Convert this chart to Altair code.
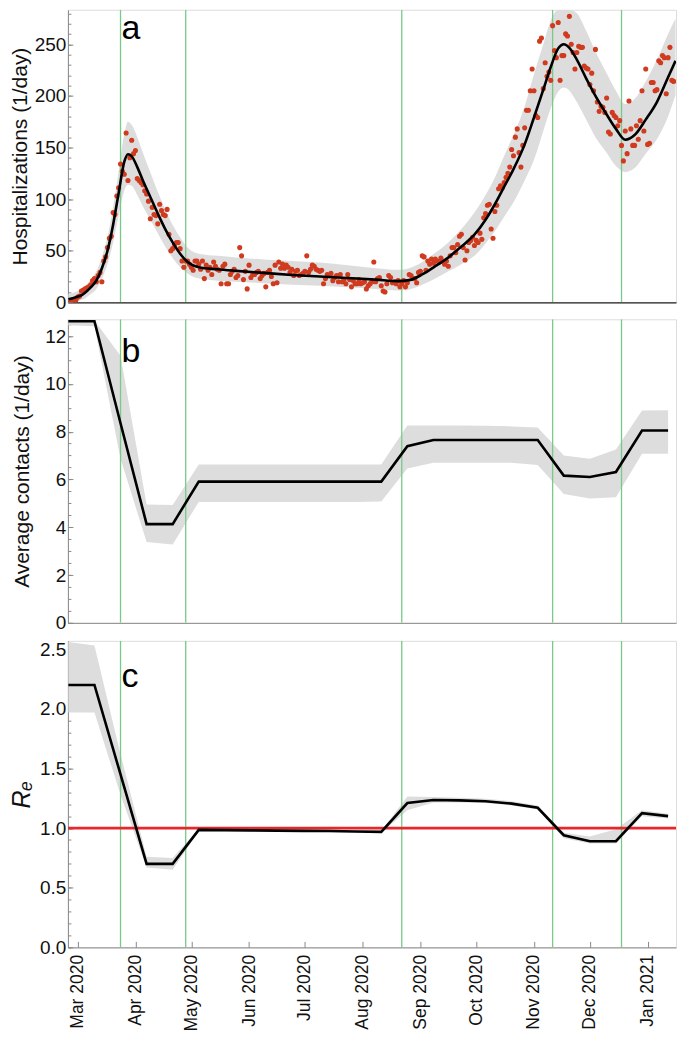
import altair as alt
import pandas as pd

FONT = "Liberation Sans"
GRAY = "#8a8a8a"
BAND = "#dcdddc"
GREEN = "#78c98a"
RED_PT = "#d03a1e"

# ---------------- data ----------------
x_start = "2020-02-24 18:00"
x_end = "2021-01-16 06:00"
event_dates = ["2020-03-24", "2020-04-28", "2020-08-22", "2020-11-11", "2020-12-18"]

# daily hospitalizations, one value per day starting at hosp_start
hosp_start = "2020-02-26"
hosp_values = [
    0, 1, 0, 2,
    5, 6, 11, 12, 13, 14, 15, 17, 21, 23,
    20, 26, 29, 20, 40, 44, 53, 62, 64, 87,
    85, 103, 111, 134, 127, 124, 164, 118, 140, 157,
    144, 147, 120, 118, 116, 114, 108, 105, 98, 81,
    92, 85, 84, 76, 95, 89, 85, 84, 90, 66,
    50, 52, 56, 58, 58, 52, 40, 34, 40, 40,
    37, 34, 31, 40, 40, 37, 32, 40, 23, 36,
    31, 34, 27, 39, 35, 32, 31, 18, 35, 37,
    18, 18, 27, 30, 32, 24, 26, 53, 45, 22,
    30, 13, 36, 24, 27, 27, 29, 30, 23, 26,
    28, 15, 29, 31, 25, 18, 36, 19, 39, 33,
    37, 33, 36, 34, 29, 32, 26, 30, 31, 26,
    27, 28, 30, 45, 29, 32, 36, 35, 32, 31,
    30, 31, 18, 23, 27, 26, 28, 21, 24, 26,
    20, 27, 20, 22, 18, 27, 22, 15, 21, 18,
    18, 22, 18, 19, 20, 13, 16, 18, 20, 39,
    20, 23, 24, 16, 11, 10, 18, 26, 24, 19,
    20, 18, 21, 15, 18, 21, 15, 19, 27, 26,
    23, 23, 19, 29, 30, 45, 44, 31, 40, 37,
    42, 38, 42, 40, 39, 43, 40, 37, 40, 35,
    45, 53, 53, 48, 56, 64, 66, 53, 41, 50,
    58, 60, 63, 55, 60, 58, 67, 61, 82, 86,
    94, 95, 71, 62, 88, 94, 110, 113, 111, 116,
    121, 125, 131, 148, 142, 160, 168, 145, 131, 152,
    169, 186, 186, 205, 226, 205, 181, 179, 253, 256,
    207, 232, 219, 223, 215, 268, 244, 237, 271, 215,
    239, 239, 260, 258, 277, 250, 242, 226, 242, 248,
    247, 247, 229, 227, 226, 211, 222, 205, 245, 194,
    185, 190, 189, 184, 198, 165, 163, 184, 181, 179,
    171, 176, 152, 137, 166, 144, 195, 168, 152, 152,
    171, 158, 176, 205, 166, 226, 153, 154, 213, 213,
    205, 206, 234, 232, 239, 237, 202, 237, 247, 215, 214,
]

# model fit for hospitalizations (median and band)
curve_dates = [
    "2020-02-25", "2020-02-29", "2020-03-04", "2020-03-08", "2020-03-11", "2020-03-14",
    "2020-03-17", "2020-03-20", "2020-03-23", "2020-03-26", "2020-03-28", "2020-03-30",
    "2020-04-02", "2020-04-05", "2020-04-09", "2020-04-13", "2020-04-17", "2020-04-21",
    "2020-04-25", "2020-04-29", "2020-05-05", "2020-05-15", "2020-05-25", "2020-06-09",
    "2020-06-24", "2020-07-09", "2020-07-24", "2020-08-08", "2020-08-20", "2020-08-26",
    "2020-09-02", "2020-09-09", "2020-09-16", "2020-09-23", "2020-09-30", "2020-10-06",
    "2020-10-11", "2020-10-16", "2020-10-21", "2020-10-27", "2020-11-01", "2020-11-06",
    "2020-11-10", "2020-11-14", "2020-11-17", "2020-11-20", "2020-11-24", "2020-11-29",
    "2020-12-04", "2020-12-10", "2020-12-15", "2020-12-20", "2020-12-25", "2020-12-31",
    "2021-01-06", "2021-01-12", "2021-01-16",
]
curve_mid = [
    3, 5, 8, 14.5, 21, 33,
    50, 75, 106, 136, 143.5, 141.5,
    131, 118, 102, 86, 71, 58,
    47, 39, 34, 32, 30.5, 28.5,
    26.5, 25, 23.5, 22, 20.5, 21.5,
    27, 35, 43.5, 54, 65.5, 80,
    95, 112, 129, 153, 179, 206,
    228, 246, 250, 246.5, 235, 217,
    200, 182, 168, 157.5, 162, 177,
    194, 218, 234,
]
curve_lo = [
    0, 1, 3, 8, 13, 23,
    37, 58, 84, 108, 114, 113,
    104, 93, 80, 67, 54, 43,
    34, 28, 23, 21, 20, 18.5,
    17, 16, 14.5, 13, 11.5, 12.5,
    17, 23, 30, 37, 45, 57,
    69, 83, 97, 118, 138, 166,
    188, 204, 208, 205, 194, 177,
    160, 145, 132, 126, 130, 144,
    158, 180, 201,
]
curve_hi = [
    8, 10, 14, 22, 30, 44,
    63, 92, 127, 163, 175, 172,
    160, 145, 126, 107, 90, 75,
    63, 53, 47, 45, 43.5, 41.5,
    40, 38.5, 36, 33, 31.5, 33,
    39, 48, 58, 71, 87, 104,
    121, 142, 162, 190, 221, 250,
    273, 292, 296, 292, 280, 263,
    243, 222, 205, 192, 197, 214,
    235, 260, 275,
]

# piecewise-constant parameter estimates (biweekly nodes)
node_dates = [
    "2020-02-25", "2020-03-10", "2020-03-24", "2020-04-07", "2020-04-21", "2020-05-05",
    "2020-05-19", "2020-06-02", "2020-06-16", "2020-06-30", "2020-07-14", "2020-07-28",
    "2020-08-11", "2020-08-25", "2020-09-08", "2020-09-22", "2020-10-06", "2020-10-20",
    "2020-11-03", "2020-11-17", "2020-12-01", "2020-12-15", "2020-12-29", "2021-01-12",
]
contacts_mid = [12.62, 12.62, 8.35, 4.13, 4.13, 5.91, 5.91, 5.91, 5.91, 5.91, 5.91, 5.91,
                5.91, 7.39, 7.65, 7.65, 7.65, 7.65, 7.65, 6.16, 6.10, 6.31, 8.05, 8.05]
contacts_lo = [12.45, 12.41, 6.87, 3.38, 3.28, 5.06, 5.06, 5.06, 5.06, 5.06, 5.06, 5.06,
               5.08, 6.46, 6.70, 6.70, 6.70, 6.70, 6.60, 5.39, 5.20, 5.25, 7.07, 7.07]
contacts_hi = [12.66, 12.65, 11.18, 4.95, 4.93, 6.62, 6.63, 6.63, 6.63, 6.63, 6.63, 6.63,
               6.62, 8.26, 8.26, 8.26, 8.25, 8.22, 8.17, 7.00, 6.87, 7.25, 8.88, 8.90]

re_mid = [2.20, 2.20, 1.45, 0.70, 0.70, 0.985, 0.983, 0.981, 0.979, 0.977, 0.975, 0.972,
          0.968, 1.21, 1.235, 1.232, 1.225, 1.205, 1.17, 0.94, 0.89, 0.89, 1.125, 1.10]
re_lo = [1.97, 1.97, 1.28, 0.67, 0.65, 0.975, 0.973, 0.971, 0.969, 0.967, 0.965, 0.962,
         0.958, 1.15, 1.215, 1.215, 1.21, 1.19, 1.155, 0.915, 0.87, 0.87, 1.10, 1.08]
re_hi = [2.56, 2.53, 1.62, 0.76, 0.75, 0.995, 0.993, 0.991, 0.989, 0.987, 0.985, 0.982,
         0.978, 1.265, 1.26, 1.255, 1.245, 1.225, 1.19, 0.96, 0.93, 0.99, 1.15, 1.12]

re_threshold = [1.0]

panel_letters = ["a", "b", "c"]
letter_dates = ["2020-03-24", "2020-03-24", "2020-03-24"]
letter_y = [255, 10.9, 2.18]

# ---------------- frames ----------------
hosp_df = pd.DataFrame({
    "date": pd.date_range(hosp_start, periods=len(hosp_values), freq="D"),
    "value": hosp_values,
})
curve_df = pd.DataFrame({"date": pd.to_datetime(curve_dates), "mid": curve_mid,
                         "lo": curve_lo, "hi": curve_hi})
contacts_df = pd.DataFrame({"date": pd.to_datetime(node_dates), "mid": contacts_mid,
                            "lo": contacts_lo, "hi": contacts_hi})
re_df = pd.DataFrame({"date": pd.to_datetime(node_dates), "mid": re_mid,
                      "lo": re_lo, "hi": re_hi})
events_df = pd.DataFrame({"date": pd.to_datetime(event_dates)})
thr_df = pd.DataFrame({"y": re_threshold})

W = 609
HA, HB, HC = 293, 304, 307
xs = pd.to_datetime(x_start)
xe = pd.to_datetime(x_end)
xscale = alt.Scale(domain=[
    alt.DateTime(year=xs.year, month=xs.month, date=xs.day, hours=xs.hour),
    alt.DateTime(year=xe.year, month=xe.month, date=xe.day, hours=xe.hour),
])
MONTHS = alt.TimeIntervalStep(interval="month", step=1)


def y_axes(major, minor, title, tsize=21, tstyle="normal", tpad=1, fmt=None):
    kw = dict(title=title, values=major, orient="left", ticks=False, tickSize=0,
              labelPadding=2, domainColor=GRAY, domainWidth=1, labelFontSize=19,
              labelFont=FONT, labelColor="#111111", titleFont=FONT,
              titleFontSize=tsize, titleFontWeight="normal", titleFontStyle=tstyle,
              titleColor="#111111", titlePadding=tpad, grid=False)
    if fmt:
        kw["format"] = fmt
    main = alt.Axis(**kw)
    maj = alt.Axis(title=None, values=major, orient="left", labels=False, domain=False,
                   ticks=True, tickSize=5, offset=-5, tickColor=GRAY, tickWidth=1, grid=False)
    mnr = alt.Axis(title=None, values=minor, orient="left", labels=False, domain=False,
                   ticks=True, tickSize=3, offset=-3, tickColor=GRAY, tickWidth=1, grid=False)
    return main, maj, mnr


def X(axis):
    return alt.X("date:T", scale=xscale, axis=axis)


def events_layer(axis=None):
    return alt.Chart(events_df).mark_rule(color=GREEN, strokeWidth=1.3, clip=True).encode(
        x=X(axis))


def letter_layer(idx, yscale, axis):
    df = pd.DataFrame({"date": [pd.to_datetime(letter_dates[idx])],
                       "y": [letter_y[idx]], "t": [panel_letters[idx]]})
    return alt.Chart(df).mark_text(font=FONT, fontSize=34, align="left",
                                   baseline="alphabetic", dx=1, color="#000000").encode(
        x=X(None), y=alt.Y("y:Q", scale=yscale, axis=axis), text="t:N")


# ---------------- panel a ----------------
ya = alt.Scale(domain=[0, 283.4], nice=False, zero=True, clamp=True)
a_main, a_maj, a_min = y_axes([0, 50, 100, 150, 200, 250], list(range(0, 281, 10)),
                              "Hospitalizations (1/day)", tpad=4)
xa_axis = alt.Axis(title=None, labels=False, ticks=False, domainColor="#222222",
                   domainWidth=1.3, grid=False)

band_a = alt.Chart(curve_df).mark_area(color=BAND, interpolate="monotone", clip=True).encode(
    x=X(xa_axis), y=alt.Y("lo:Q", scale=ya, axis=a_main), y2="hi:Q")
pts_a = alt.Chart(hosp_df).mark_circle(color=RED_PT, size=26, opacity=1, clip=True).encode(
    x=X(None), y=alt.Y("value:Q", scale=ya, axis=a_maj))
line_a = alt.Chart(curve_df).mark_line(color="#000000", strokeWidth=2.6,
                                       interpolate="monotone", clip=True).encode(
    x=X(None), y=alt.Y("mid:Q", scale=ya, axis=a_min))
panel_a = alt.layer(band_a, events_layer(), pts_a, line_a,
                    letter_layer(0, ya, None)).resolve_axis(
    x="independent", y="independent").properties(width=W, height=HA)

# ---------------- panel b ----------------
yb = alt.Scale(domain=[0, 12.7], nice=False, zero=True, clamp=True)
b_main, b_maj, b_min = y_axes([0, 2, 4, 6, 8, 10, 12], [i * 0.5 for i in range(26)],
                              "Average contacts (1/day)", tpad=12)
xb_axis = alt.Axis(title=None, labels=False, ticks=False, domainColor=GRAY, domainWidth=1,
                   grid=False)
band_b = alt.Chart(contacts_df).mark_area(color=BAND, clip=True).encode(
    x=X(xb_axis), y=alt.Y("lo:Q", scale=yb, axis=b_main), y2="hi:Q")
line_b = alt.Chart(contacts_df).mark_line(color="#000000", strokeWidth=2.6, clip=True).encode(
    x=X(None), y=alt.Y("mid:Q", scale=yb, axis=b_maj))
panel_b = alt.layer(band_b, events_layer(), line_b,
                    letter_layer(1, yb, b_min)).resolve_axis(
    x="independent", y="independent").properties(width=W, height=HB)

# ---------------- panel c ----------------
yc = alt.Scale(domain=[0, 2.57], nice=False, zero=True, clamp=True)
c_main, c_maj, c_min = y_axes([0, 0.5, 1.0, 1.5, 2.0, 2.5],
                              [round(i * 0.1, 1) for i in range(26)],
                              "R\u2091", tsize=25, tstyle="italic", tpad=5, fmt=".1f")
xc_main = alt.Axis(title=None, format="%b %Y", tickCount=MONTHS, labelAngle=270,
                   labelFontSize=17.5, labelFont=FONT, labelColor="#111111", labelPadding=7,
                   ticks=False, tickSize=0, domainColor=GRAY, domainWidth=1, grid=False,
                   labelOverlap=False)
xc_ticks = alt.Axis(title=None, tickCount=MONTHS, labels=False, domain=False, ticks=True,
                    tickSize=6, offset=-6, tickColor=GRAY, tickWidth=1, orient="bottom",
                    grid=False)
band_c = alt.Chart(re_df).mark_area(color=BAND, clip=True).encode(
    x=X(xc_main), y=alt.Y("lo:Q", scale=yc, axis=c_main), y2="hi:Q")
red_c = alt.Chart(thr_df).mark_rule(color="#e8262b", strokeWidth=2.6, clip=True).encode(
    y=alt.Y("y:Q", scale=yc, axis=None))
line_c = alt.Chart(re_df).mark_line(color="#000000", strokeWidth=2.6, clip=True).encode(
    x=X(None), y=alt.Y("mid:Q", scale=yc, axis=c_maj))
panel_c = alt.layer(band_c, events_layer(axis=xc_ticks), red_c, line_c,
                    letter_layer(2, yc, c_min)).resolve_axis(
    x="independent", y="independent").properties(width=W, height=HC)

chart = alt.vconcat(panel_a, panel_b, panel_c, spacing=5).properties(
    padding={"left": 0, "top": 0, "right": 0, "bottom": 0}
).configure_view(strokeWidth=0).configure(font=FONT)

chart.save("out.html", embed_options={"renderer": "svg", "actions": False})
